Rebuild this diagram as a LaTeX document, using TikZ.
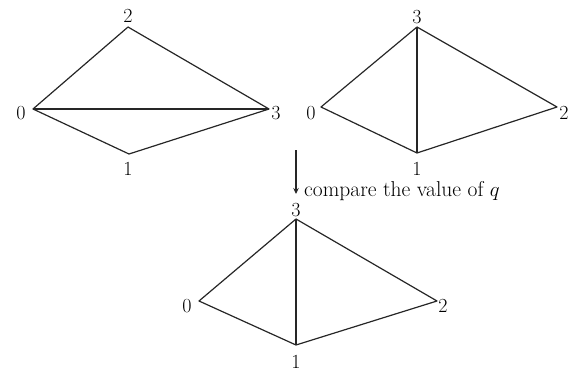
\documentclass[tikz,border=0pt]{standalone}
\usetikzlibrary{arrows.meta}
\begin{document}
\begin{tikzpicture}[x=1pt,y=-1pt,
  edge/.style={line width=1.2pt,line join=round,draw=black!85},
  lbl/.style={inner sep=0pt,font=\fontsize{20}{24}\selectfont},
  txt/.style={inner sep=0pt,font=\fontsize{21.5}{24}\selectfont},
  arr/.style={line width=1.1pt,draw=black!85,-{Stealth[length=6pt,width=5.5pt]}}]
\useasboundingbox (0,0) rectangle (574,375);
% left diagram
\coordinate (a0) at (33,109);
\coordinate (a1) at (129,154);
\coordinate (a2) at (128,27);
\coordinate (a3) at (269,109);
\draw[edge] (a0) -- (a2) -- (a3) -- (a1) -- cycle;
\draw[edge] (a0) -- (a3);
\node[lbl] (la0) at (21,113) {0};
\node[lbl] (la1) at (128,169) {1};
\node[lbl] (la2) at (128,16) {2};
\node[lbl] (la3) at (276,113) {3};
% right diagram
\coordinate (b0) at (321,107);
\coordinate (b1) at (417,153);
\coordinate (b2) at (557,107);
\coordinate (b3) at (417,27);
\draw[edge] (b0) -- (b3) -- (b2) -- (b1) -- cycle;
\draw[edge] (b3) -- (b1);
\node[lbl] (lb0) at (311,113) {0};
\node[lbl] (lb1) at (417,169) {1};
\node[lbl] (lb2) at (564,113) {2};
\node[lbl] (lb3) at (417,17) {3};
% arrow
\coordinate (at) at (296,150);
\coordinate (ab) at (296,194);
\draw[arr] (at) -- (ab);
\node[txt,anchor=base west] (cmp) at (304,196) {compare the value of $q$};
% bottom diagram
\coordinate (c0) at (199,301);
\coordinate (c1) at (296,345);
\coordinate (c2) at (437,301);
\coordinate (c3) at (296,219);
\draw[edge] (c0) -- (c3) -- (c2) -- (c1) -- cycle;
\draw[edge] (c3) -- (c1);
\node[lbl] (lc0) at (187,306) {0};
\node[lbl] (lc1) at (296,362) {1};
\node[lbl] (lc2) at (443,306) {2};
\node[lbl] (lc3) at (296,210) {3};
\end{tikzpicture}
\end{document}
